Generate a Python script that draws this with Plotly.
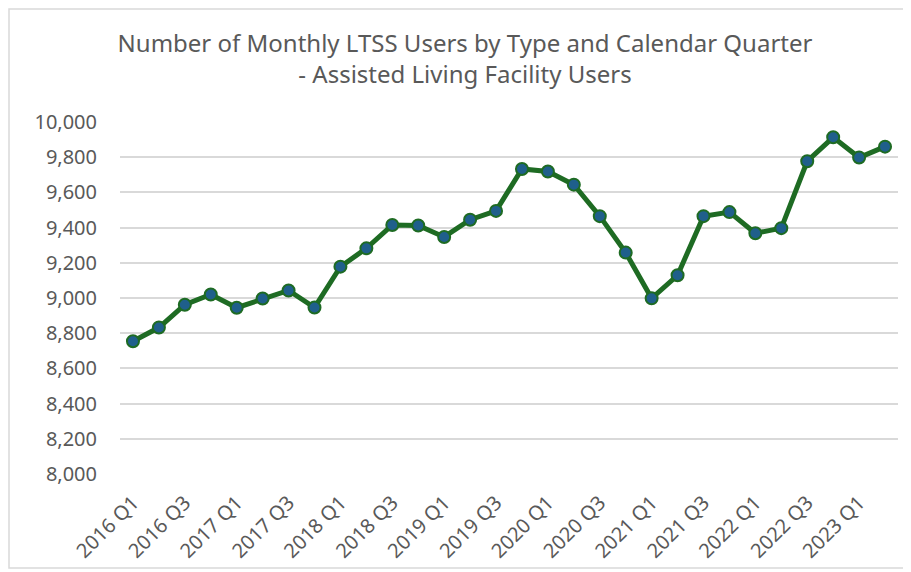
"""Assisted Living Facility users by calendar quarter."""

import plotly.graph_objects as go

QUARTERS = [f"{year} Q{q}" for year in range(2016, 2024) for q in range(1, 5)][:30]
USERS = [
    8754, 8832, 8962, 9020, 8945, 8997, 9043, 8946,
    9178, 9282, 9415, 9412, 9347, 9445, 9495, 9733,
    9719, 9644, 9465, 9258, 8998, 9129, 9465, 9488,
    9368, 9397, 9777, 9913, 9798, 9860,
]
Y_TICKS = list(range(8000, 10001, 200))

LINE_GREEN = "#1E6B23"
MARKER_BLUE = "#1F5F8B"
TEXT_GRAY = "#595959"
FONT = "Noto Sans, DejaVu Sans, sans-serif"

# the page body adds an 8px margin, so the figure is 8px smaller each way
W, H = 903, 564
# plot area in window pixels: x 120..890, y 122..466
L, R, T, B = 112, 13, 114, 98
PW, PH = W - L - R, H - T - B

fig = go.Figure(
    go.Scatter(
        x=QUARTERS,
        y=USERS,
        mode="lines+markers",
        line=dict(color=LINE_GREEN, width=5),
        marker=dict(size=12, color=MARKER_BLUE, line=dict(color=LINE_GREEN, width=2)),
        hovertemplate="%{x}: %{y:,}<extra></extra>",
    )
)

fig.update_layout(
    width=W,
    height=H,
    paper_bgcolor="#FFFFFF",
    plot_bgcolor="#FFFFFF",
    showlegend=False,
    font=dict(family=FONT, color=TEXT_GRAY),
    title=dict(
        text="Number of Monthly LTSS Users by Type and Calendar Quarter<br>- Assisted Living Facility Users",
        x=457 / W,
        xanchor="center",
        y=1 - 44 / H,
        yanchor="top",
        font=dict(size=24, color=TEXT_GRAY, family=FONT),
    ),
    margin=dict(l=L, r=R, t=T, b=B, autoexpand=False),
    shapes=[
        dict(
            type="rect", xref="paper", yref="paper",
            x0=(1 - L) / PW, x1=(899 - L) / PW,
            y0=(T + PH - 560) / PH, y1=(T + PH - 1) / PH,
            line=dict(color="#D9D9D9", width=1.5),
        )
    ],
)

fig.update_xaxes(
    type="category",
    range=[-0.5, len(QUARTERS) - 0.5],
    tickangle=-45,
    dtick=2,
    tickfont=dict(size=20, color=TEXT_GRAY),
    showgrid=False,
    showline=False,
    ticks="outside",
    ticklen=8,
    tickcolor="rgba(0,0,0,0)",
    automargin=False,
)
fig.update_yaxes(
    range=[8000, 10000],
    tickvals=Y_TICKS,
    tickformat=",",
    tickfont=dict(size=20, color=TEXT_GRAY),
    gridcolor="#D9D9D9",
    gridwidth=1.5,
    zeroline=False,
    ticks="outside",
    ticklen=18,
    tickcolor="rgba(0,0,0,0)",
    automargin=False,
)

fig.write_html("out.html")
